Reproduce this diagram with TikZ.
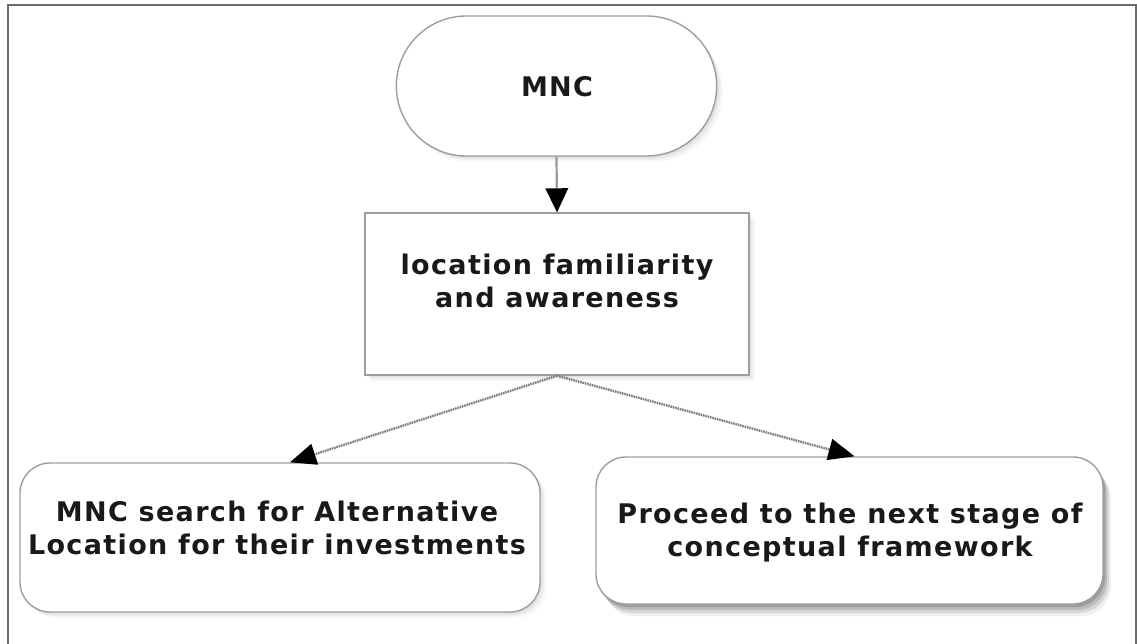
\documentclass[tikz,border=0pt]{standalone}
\usepackage{fontspec}
\setmainfont{DejaVu Sans}
\newfontfamily\lblfont[LetterSpace=5]{DejaVu Sans}
\usetikzlibrary{arrows.meta,shapes.misc,shadows}

\tikzset{
  lbl/.style={font=\lblfont\bfseries\fontsize{27}{33}\selectfont,
              text=black!90, align=center, inner sep=0pt},
  box/.style={draw=black!38, line width=1.4pt, fill=white},
  softshade/.style={
    drop shadow={shadow xshift=2pt, shadow yshift=-2pt, opacity=0.05, fill=black},
    drop shadow={shadow xshift=4pt, shadow yshift=-4pt, opacity=0.04, fill=black},
    drop shadow={shadow xshift=6pt, shadow yshift=-6pt, opacity=0.03, fill=black}},
  darkshade/.style={
    drop shadow={shadow xshift=2pt, shadow yshift=-3pt, opacity=0.16, fill=black},
    drop shadow={shadow xshift=4pt, shadow yshift=-6pt, opacity=0.13, fill=black},
    drop shadow={shadow xshift=6pt, shadow yshift=-9pt, opacity=0.10, fill=black},
    drop shadow={shadow xshift=8pt, shadow yshift=-12pt, opacity=0.06, fill=black}},
  solidlink/.style={draw=black!40, line width=2.2pt,
                    -{Triangle[length=24pt,width=23pt,fill=black,line width=0pt]}},
  dashlink/.style={draw=black!50, line width=2.4pt, dash pattern=on 1.6pt off 0.8pt,
                   -{Triangle[length=26pt,width=22pt,fill=black,line width=0pt]}},
  frame/.style={draw=black!58, line width=2.4pt}
}

\begin{document}
\begin{tikzpicture}[x=1pt,y=-1pt]
  \useasboundingbox (0,0) rectangle (1137,644);
  \fill[white] (0,0) rectangle (1137,644);

  % outer frame, open at the bottom
  \draw[frame] (8,660) -- (8,5) -- (1136,5) -- (1136,660);

  % boxes
  \node[box, softshade, rounded rectangle, minimum width=327pt, minimum height=140pt]
    (mnc) at (556.5,86) {};
  \node[box, softshade, rectangle, minimum width=384pt, minimum height=162pt]
    (loc) at (557,294) {};
  \node[box, softshade, rectangle, rounded corners=30pt, minimum width=520pt, minimum height=149pt]
    (alt) at (280,537.5) {};
  \node[box, darkshade, rectangle, rounded corners=30pt, minimum width=507pt, minimum height=147pt]
    (next) at (849.5,530.5) {};

  % connectors
  \draw[solidlink] (mnc.south) -- (loc.north);
  \draw[dashlink] (loc.south) -- ([xshift=10pt]alt.north);
  \draw[dashlink] (loc.south) -- ([xshift=5pt]next.north);

  % labels
  \node[lbl] (mnc-t)  at (557,87)  {MNC};
  \node[lbl] (loc-t)  at (557,281) {location familiarity\\and awareness};
  \node[lbl] (alt-t)  at (277,528) {MNC search for Alternative\\Location for their investments};
  \node[lbl] (next-t) at (850,533) {Proceed to the next stage of\\conceptual framework};
\end{tikzpicture}
\end{document}
